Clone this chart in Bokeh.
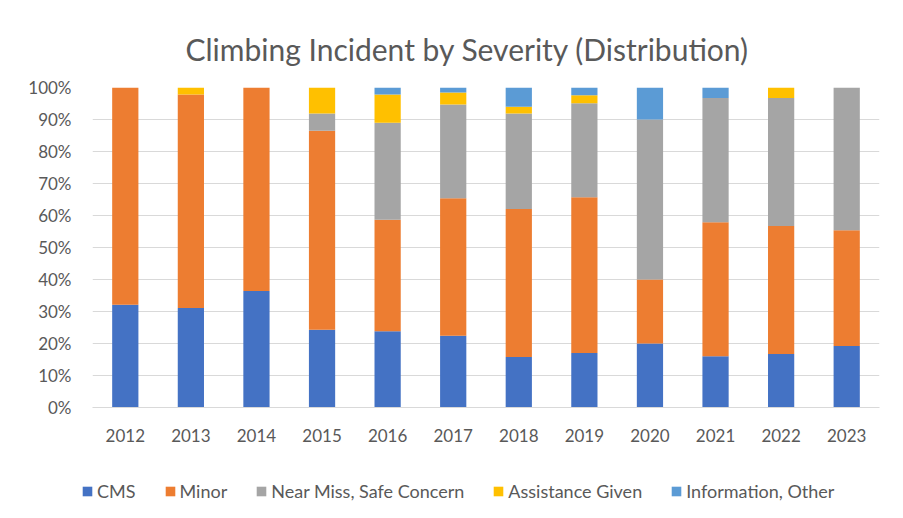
from bokeh.plotting import figure
from bokeh.layouts import column
from bokeh.models import (Legend, LegendItem, FixedTicker, NumeralTickFormatter,
                          ColumnDataSource)
from bokeh.embed import file_html
from bokeh.resources import INLINE

years = ["2012", "2013", "2014", "2015", "2016", "2017",
         "2018", "2019", "2020", "2021", "2022", "2023"]
series = ["CMS", "Minor", "Near Miss, Safe Concern", "Assistance Given", "Information, Other"]
cms = [32.1, 31.1, 36.4, 24.3, 23.8, 22.4, 15.8, 17.0, 20.0, 16.0, 16.7, 19.2]
minor = [67.9, 66.7, 63.6, 62.2, 34.9, 43.0, 46.2, 48.7, 20.0, 41.9, 40.0, 36.2]
near_miss = [0, 0, 0, 5.4, 30.3, 29.3, 29.9, 29.4, 50.0, 38.8, 40.0, 44.6]
assistance = [0, 2.2, 0, 8.1, 8.8, 3.7, 2.1, 2.5, 0, 0, 3.3, 0]
information = [0, 0, 0, 0, 2.2, 1.6, 6.0, 2.4, 10.0, 3.3, 0, 0]
y_ticks = [0, 0.1, 0.2, 0.3, 0.4, 0.5, 0.6, 0.7, 0.8, 0.9, 1.0]
colors = ["#4472C4", "#ED7D31", "#A5A5A5", "#FFC000", "#5B9BD5"]

FONT = "Lato"
TXT = "#595959"
GRID = "#d9d9d9"

keys = ["cms", "minor", "near", "assist", "info"]
data = {"years": years}
for k, arr in zip(keys, [cms, minor, near_miss, assistance, information]):
    data[k] = [v / 100.0 for v in arr]
source = ColumnDataSource(data)

p = figure(x_range=years, y_range=(0, 1), width=895, height=455,
           output_backend="svg", toolbar_location=None,
           min_border_left=92, min_border_right=16, min_border_top=87,
           min_border_bottom=48)

p.vbar_stack(keys, x="years", width=0.4, color=colors, source=source,
             line_color=None)

p.title.text = "Climbing Incident by Severity (Distribution)"
p.title.text_font = FONT
p.title.text_font_size = "30px"
p.title.text_font_style = "normal"
p.title.text_color = TXT
p.title.align = "left"
p.title.offset = 93
p.title.standoff = 42

p.yaxis.ticker = FixedTicker(ticks=y_ticks)
p.yaxis.formatter = NumeralTickFormatter(format="0%")
p.yaxis.axis_line_color = None
p.yaxis.major_tick_line_color = None
p.yaxis.minor_tick_line_color = None
p.yaxis.major_label_standoff = 15
p.yaxis.major_label_text_font = FONT
p.yaxis.major_label_text_font_size = "17px"
p.yaxis.major_label_text_color = TXT

p.xaxis.axis_line_color = GRID
p.xaxis.major_tick_line_color = None
p.xaxis.minor_tick_line_color = None
p.xaxis.major_label_standoff = 15
p.xaxis.major_label_text_font = FONT
p.xaxis.major_label_text_font_size = "17px"
p.xaxis.major_label_text_color = TXT

p.xgrid.grid_line_color = None
p.ygrid.grid_line_color = GRID
p.ygrid.ticker = FixedTicker(ticks=y_ticks)
p.outline_line_color = None
p.x_range.range_padding = 0.0

# legend strip below the chart
lg = figure(x_range=years, y_range=(0, 1), width=895, height=55,
            output_backend="svg", toolbar_location=None,
            x_axis_type=None, y_axis_type=None,
            min_border_left=0, min_border_right=0, min_border_top=0,
            min_border_bottom=0)
lg.frame_align = False
p.frame_align = False
lg.outline_line_color = None
lg.xgrid.grid_line_color = None
lg.ygrid.grid_line_color = None
lg_renderers = lg.vbar_stack(keys, x="years", width=0.4, color=colors,
                             source=source, line_color=None)
for r in lg_renderers:
    r.visible = False

items = [LegendItem(label=s, renderers=[r]) for s, r in zip(series, lg_renderers)]
legend = Legend(items=items, orientation="horizontal", location=(81, 8),
                label_text_font=FONT, label_text_font_size="18px",
                label_text_color=TXT, glyph_width=12, glyph_height=12,
                label_standoff=4, spacing=28, padding=0, margin=0,
                border_line_color=None, background_fill_alpha=0,
                inactive_fill_alpha=0, click_policy="none")
lg.add_layout(legend, "center")

layout = column(p, lg, spacing=0)
open("out.html", "w").write(file_html(layout, INLINE))
